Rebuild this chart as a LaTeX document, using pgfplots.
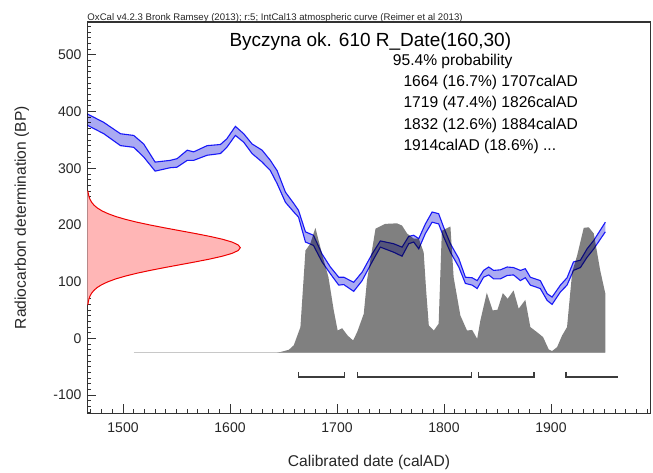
\documentclass[border=0pt]{standalone}
\usepackage{fontspec}
\setmainfont{Liberation Sans}
\usepackage{pgfplots}
\usepackage{pgfplotstable}
\pgfplotsset{compat=1.18}
\definecolor{bandfill}{RGB}{170,170,242}
\definecolor{bandedge}{RGB}{30,30,255}
\definecolor{redfill}{RGB}{255,182,182}
\definecolor{redline}{RGB}{238,0,0}
\definecolor{postgray}{RGB}{128,128,128}
\definecolor{baseg}{RGB}{200,200,200}
\definecolor{brack}{RGB}{60,60,60}

% IntCal13 band: year, lower, upper (BP)
\pgfplotstableread{
year lo hi
1466.6 376 396
1482 361 381
1497.6 340 361
1510 337 358
1519.3 320 343
1530 295 311
1544 301 314
1550.5 302 317
1560 314 332
1566 314 329
1578.6 323 340
1591 326 342
1597 337 352
1605 358 374
1612.8 346 361
1620.6 326 343
1630 311 332
1637.7 296 314
1644 273 296
1651.8 240 258
1659.6 223 238
1664 214 226
1670.5 170 188
1678 164 182
1686 135 149
1693.8 114 126
1701.6 94 108
1706.3 95 108
1715.6 83 99
1723.5 102 117
1732.8 135 149
1740.5 161 172
1753 152 167
1760.8 145 161
1767 167 180
1771.7 170 182
1776.4 158 176
1782.6 185 202
1788.9 205 223
1795 202 220
1799.7 179 196
1806 152 167
1813.8 126 141
1820 97 108
1826.3 94 107
1831 88 102
1837 108 120
1841.8 112 126
1846.4 105 120
1852.7 105 121
1859 111 126
1865 112 125
1871.4 102 120
1876 107 123
1880.7 94 108
1890 88 102
1896.4 67 79
1901 60 73
1908.8 82 94
1915 94 107
1921 120 135
1927.5 125 138
1933.7 143 158
1940 158 173
1950.8 188 205
}\band

% same band as a closed outline (upper edge forward, lower edge back)
\pgfplotstableread{
year bp
1466.6 396
1482 381
1497.6 361
1510 358
1519.3 343
1530 311
1544 314
1550.5 317
1560 332
1566 329
1578.6 340
1591 342
1597 352
1605 374
1612.8 361
1620.6 343
1630 332
1637.7 314
1644 296
1651.8 258
1659.6 238
1664 226
1670.5 188
1678 182
1686 149
1693.8 126
1701.6 108
1706.3 108
1715.6 99
1723.5 117
1732.8 149
1740.5 172
1753 167
1760.8 161
1767 180
1771.7 182
1776.4 176
1782.6 202
1788.9 223
1795 220
1799.7 196
1806 167
1813.8 141
1820 108
1826.3 107
1831 102
1837 120
1841.8 126
1846.4 120
1852.7 121
1859 126
1865 125
1871.4 120
1876 123
1880.7 108
1890 102
1896.4 79
1901 73
1908.8 94
1915 107
1921 135
1927.5 138
1933.7 158
1940 173
1950.8 205
1950.8 188
1940 158
1933.7 143
1927.5 125
1921 120
1915 94
1908.8 82
1901 60
1896.4 67
1890 88
1880.7 94
1876 107
1871.4 102
1865 112
1859 111
1852.7 105
1846.4 105
1841.8 112
1837 108
1831 88
1826.3 94
1820 97
1813.8 126
1806 152
1799.7 179
1795 202
1788.9 205
1782.6 185
1776.4 158
1771.7 170
1767 167
1760.8 145
1753 152
1740.5 161
1732.8 135
1723.5 102
1715.6 83
1706.3 95
1701.6 94
1693.8 114
1686 135
1678 164
1670.5 170
1664 214
1659.6 223
1651.8 240
1644 273
1637.7 296
1630 311
1620.6 326
1612.8 346
1605 358
1597 337
1591 326
1578.6 323
1566 314
1560 314
1550.5 302
1544 301
1530 295
1519.3 320
1510 337
1497.6 340
1482 361
1466.6 376
}\bandpoly

% posterior distribution outline: year, BP
\pgfplotstableread{
year bp
1644 -25
1647 -24
1655 -20
1659.6 -12
1665.8 20
1670.5 155
1675 167
1679.8 195
1686 149
1692 108
1697 49
1700.6 14
1704.8 18
1710 5
1715 -3.5
1718.8 11
1725 43.5
1728 102
1736 193.5
1745 202
1756 203
1760.8 199
1765.5 185
1771.7 176
1776.4 176
1781 152
1783.3 85
1785.8 23
1790.5 14
1795 26
1798 190
1806 197.5
1809 108
1815.3 40.5
1821.5 14
1826.3 15
1831 -0.6
1834 31.7
1840 80.6
1845.5 49.4
1850 50.6
1855 80
1859.5 70
1865 84.6
1869.8 52.4
1876 68
1880.7 20
1887 11
1892.6 2.4
1897.9 -19.4
1901 -22.3
1905.7 -15.3
1910.4 5.3
1915 20
1919.8 117
1924.4 146
1930.6 195
1935.3 196
1940 185
1946 120
1950.8 79
1950.8 -25
1644 -25
}\post

% radiocarbon measurement 160 +/- 30 (Gaussian, drawn from the left axis)
\pgfplotstableread{
year bp
1466.6 60
1467.2 60
1467.6 65
1468.2 70
1469.2 75
1470.7 80
1472.9 85
1476.0 90
1480.3 95
1486.0 100
1493.2 105
1502.3 110
1513.0 115
1525.4 120
1539.0 125
1553.3 130
1567.6 135
1581.1 140
1592.8 145
1601.9 150
1607.6 155
1609.6 160
1607.6 165
1601.9 170
1592.8 175
1581.1 180
1567.6 185
1553.3 190
1539.0 195
1525.4 200
1513.0 205
1502.3 210
1493.2 215
1486.0 220
1480.3 225
1476.0 230
1472.9 235
1470.7 240
1469.2 245
1468.2 250
1467.6 255
1467.2 260
1466.6 260
}\meas

\begin{document}
\begin{tikzpicture}
\begin{axis}[
  at={(0pt,0pt)}, anchor=south west,
  scale only axis, width=563.4pt, height=391.3pt,
  xmin=1466.6, xmax=1993.2, ymin=-132, ymax=558,
  xtick={1500,1600,1700,1800,1900},
  ytick={-100,0,100,200,300,400,500},
  minor xtick={1470,1480,...,1990},
  minor ytick={-130,-120,...,550},
  tick pos=left, tick align=inside,
  major tick length=9pt, minor tick length=4pt,
  tick style={line width=0.9pt, color=black!80},
  axis line style={line width=1.4pt, color=black!80},
  /pgf/number format/1000 sep={},
  /pgf/number format/assume math mode=true,
  tick label style={font=\fontsize{14}{14}\selectfont, text=black!85},
  xticklabel style={anchor=north, inner sep=0pt, yshift=-9pt},
  yticklabel style={anchor=east, inner sep=0pt, xshift=-5.6pt},
  xlabel={Calibrated date (calAD)},
  ylabel={Radiocarbon determination (BP)},
  label style={font=\fontsize{15.6}{16}\selectfont, text=black!85},
  xlabel style={at={(axis description cs:0.5,-0.1372)}, anchor=base, inner sep=0pt},
  ylabel style={at={(axis description cs:-0.1164,0.5)}, anchor=center, inner sep=0pt},
]
% measurement
\addplot[fill=redfill, draw=redline, line width=1pt] table[x=year,y=bp]{\meas};
% baseline of posterior
\addplot[baseg, line width=1.3pt] coordinates {(1510,-25) (1950.8,-25)};
% posterior
\addplot[fill=postgray, draw=none] table[x=year,y=bp]{\post};
% calibration curve band
\addplot[fill=bandfill, draw=none, blend mode=multiply] table[x=year,y=bp]{\bandpoly};
\addplot[draw=bandedge, line width=1.1pt, blend mode=multiply] table[x=year,y=hi]{\band};
\addplot[draw=bandedge, line width=1.1pt, blend mode=multiply] table[x=year,y=lo]{\band};
% 95.4% ranges
\addplot[brack, line width=1.3pt] coordinates {(1664,-59) (1664,-68) (1707,-68) (1707,-59)};
\addplot[brack, line width=1.3pt] coordinates {(1719,-59) (1719,-68) (1826,-68) (1826,-59)};
\addplot[brack, line width=1.3pt] coordinates {(1832,-59) (1832,-68) (1884,-68) (1884,-59)};
\addplot[brack, line width=1.3pt] coordinates {(1914,-59) (1914,-68) (1963,-68)};
\end{axis}
\node[anchor=base west, inner sep=0pt, font=\fontsize{9.6}{10}\selectfont, text=black!85] at (0pt,392.8pt)
  {OxCal v4.2.3 Bronk Ramsey (2013); r:5; IntCal13 atmospheric curve (Reimer et al 2013)};
\node[anchor=base west, inner sep=0pt, font=\fontsize{19}{20}\selectfont] at (142pt,366.6pt)
  {Byczyna ok. 610 R\_Date(160,30)};
\node[anchor=base west, inner sep=0pt, font=\fontsize{15.6}{16}\selectfont] at (305.4pt,347.6pt)
  {95.4\% probability};
\node[anchor=base west, inner sep=0pt, font=\fontsize{15.6}{16}\selectfont] at (316pt,326.6pt)
  {1664 (16.7\%) 1707calAD};
\node[anchor=base west, inner sep=0pt, font=\fontsize{15.6}{16}\selectfont] at (316pt,305.3pt)
  {1719 (47.4\%) 1826calAD};
\node[anchor=base west, inner sep=0pt, font=\fontsize{15.6}{16}\selectfont] at (316pt,283.3pt)
  {1832 (12.6\%) 1884calAD};
\node[anchor=base west, inner sep=0pt, font=\fontsize{15.6}{16}\selectfont] at (316pt,263.1pt)
  {1914calAD (18.6\%) ...};
\pgfresetboundingbox
\path[use as bounding box] (-87.3pt,-58.7pt) rectangle (565.7pt,413.3pt);
\end{tikzpicture}
\end{document}
